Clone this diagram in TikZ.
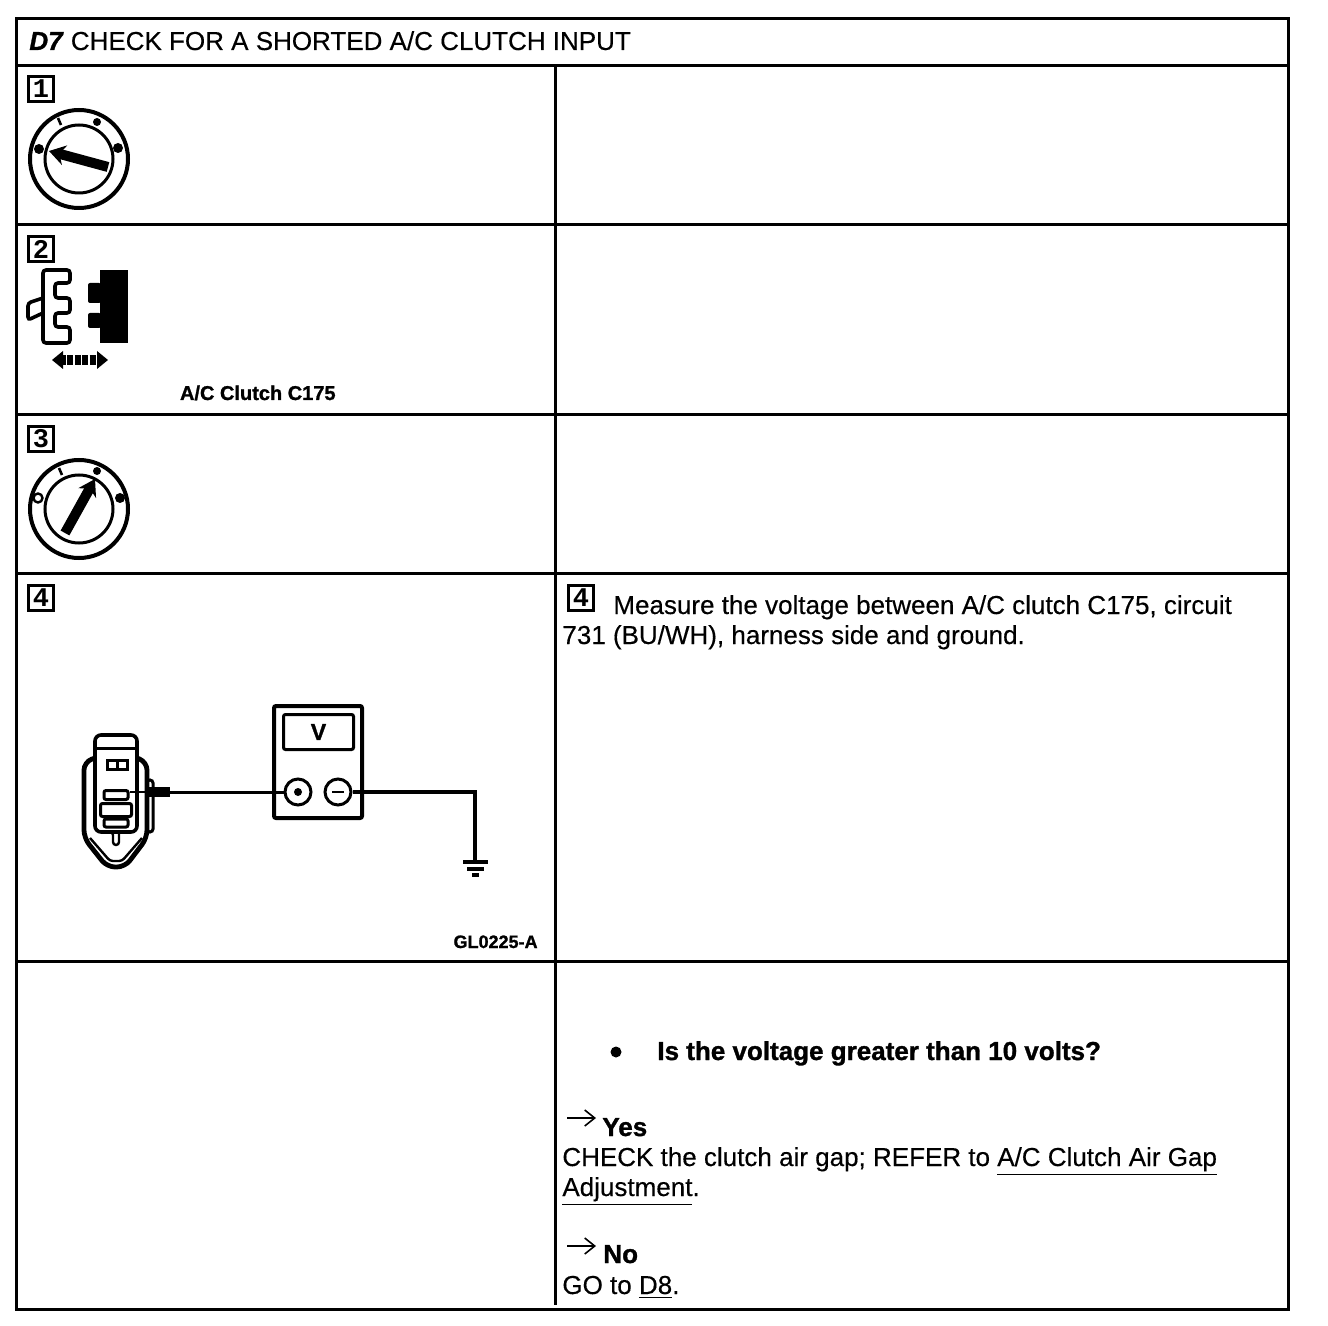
\documentclass[tikz,border=0pt]{standalone}
\usepackage{fontspec}
\setmainfont{Liberation Sans}[FakeBold=0.35,BoldFeatures={FakeBold=1.2},BoldItalicFeatures={FakeBold=1.2}]
\newfontfamily\numfont{Liberation Mono}
\usetikzlibrary{arrows.meta,positioning}
\tikzset{
  gridline/.style={line width=1.5pt},
  numbox/.style={draw, line width=1.5pt, minimum size=12.8pt, inner sep=0pt, font=\numfont\fontsize{13.5}{13.5}\selectfont\bfseries},
  bodytext/.style={anchor=base west, inner sep=0pt, font=\fontsize{13}{15}\selectfont},
  boldtext/.style={anchor=base west, inner sep=0pt, font=\fontsize{13}{15}\selectfont\bfseries},
  smalllabel/.style={anchor=base east, inner sep=0pt, font=\fontsize{10}{11}\selectfont\bfseries},
  dialring/.style={draw, circle, line width=2pt, inner sep=0pt},
  dialdot/.style={circle, fill=black, inner sep=0pt, minimum size=5pt},
  needle/.style={line width=5pt, -{Stealth[length=8pt,width=10pt]}},
  terminal/.style={draw, circle, line width=1.5pt, minimum size=13pt, inner sep=0pt},
  part/.style={line width=1.8pt, rounded corners=1.5pt},
  yesno/.style={line width=.8pt, -{Straight Barb[length=5pt,width=8pt]}}
}

\begin{document}
\begin{tikzpicture}[x=0.5pt, y=-0.5pt]
\useasboundingbox (0,0) rectangle (1328,1326);

% --- Table grid ---
\draw[gridline] (16,19) rectangle (1288,1309);
\draw[gridline] (16,66) -- (1288,66);
\draw[gridline] (16,225) -- (1288,225);
\draw[gridline] (16,415) -- (1288,415);
\draw[gridline] (16,573) -- (1288,573);
\draw[gridline] (16,961) -- (1288,961);
\draw[gridline] (555,66) -- (555,1305);

% Title
\node[bodytext] (title) at (29,50) {\textbf{\textit{D7}} CHECK FOR A SHORTED A/C CLUTCH INPUT};

% --- Step 1: key off ---
\node[numbox] (numone) at (41,89) {1};
\node[dialring, minimum size=49pt] (ringone) at (79,159) {};
\node[dialring, minimum size=34pt, line width=1.5pt] (hubone) at (79,159) {};
\node[dialdot] (offone) at (39,149) {};
\node[dialdot] (runone) at (118,148) {};
\node[dialdot, minimum size=4pt] (accone) at (97,122) {};
\draw[line width=1.3pt] (58,118) -- (61,125);
\draw[needle] (108,167) -- (49,151);

% --- Step 2: disconnect ---
\node[numbox] (numtwo) at (41,249) {2};

% Connector halves
\draw[part] (43,270) -- (70,270) -- (70,283) -- (55,283) -- (55,298) -- (70,298) -- (70,313)
  -- (55,313) -- (55,327) -- (70,327) -- (70,343) -- (43,343) -- cycle;
\draw[part] (43,298) -- (28,303) -- (28,320) -- (43,313);
\fill (100,270) rectangle (128,343);
\fill[rounded corners=1pt] (88,283) rectangle (101,303);
\fill[rounded corners=1pt] (88,313) rectangle (101,328);

% Separation arrow
\draw[line width=5pt, dash pattern=on 3pt off .7pt] (60,360) -- (100,360);
\fill (52,360) -- (63,351) -- (63,369) -- cycle;
\fill (108,360) -- (97,351) -- (97,369) -- cycle;
\node[smalllabel] (clutchlabel) at (336,400) {A/C Clutch C175};

% --- Step 3: key on ---
\node[numbox] (numthree) at (41,439) {3};
\node[dialring, minimum size=49pt] (ringthree) at (79,509) {};
\node[dialring, minimum size=34pt, line width=1.5pt] (hubthree) at (79,509) {};
\node[dialring, minimum size=4.5pt, line width=1.2pt, fill=white] (offthree) at (38,498) {};
\node[dialdot] (runthree) at (120,498) {};
\node[dialdot, minimum size=4pt] (accthree) at (97,471) {};
\draw[line width=1.3pt] (59,468) -- (62,475);
\draw[needle] (65,533) -- (95,479);

% --- Step 4: voltage measurement ---
\node[numbox] (numfour) at (41,598) {4};
\node[numbox] (numfourb) at (581,598) {4};

% Connector body
\draw[part, rounded corners=3pt] (95,735) rectangle (137,832);
\draw[line width=1.5pt] (95,748) -- (137,748);
\draw[part, line width=2.4pt, rounded corners=4pt] (95,758) -- (84,762) -- (84,838) -- (107,867) -- (125,867)
  -- (147,838) -- (147,762) -- (137,758);
\draw[part, line width=1.2pt] (90,838) -- (110,861) -- (122,861) -- (142,838);
\draw[part, line width=1.2pt] (110,832) -- (113,832) -- (113,845) -- (119,845) -- (119,832);
\draw[part, line width=1.5pt] (147,780) rectangle (153,832);
\node[draw, line width=1.5pt, minimum width=5pt, minimum height=4.5pt, inner sep=0pt] (windowa) at (112.5,765) {};
\node[draw, line width=1.5pt, minimum width=5pt, minimum height=4.5pt, inner sep=0pt] (windowb) at (122.5,765) {};
\node[draw, line width=1.5pt, rounded corners=1pt, minimum width=12pt, minimum height=4.5pt, inner sep=0pt] (slota) at (116,795) {};
\node[draw, line width=1.5pt, rounded corners=1pt, minimum width=15.5pt, minimum height=6.5pt, inner sep=0pt] (slotb) at (116,810) {};
\node[draw, line width=1.5pt, rounded corners=1pt, minimum width=12pt, minimum height=4pt, inner sep=0pt] (slotc) at (116,823) {};

% Probe
\node[fill=black, minimum width=11pt, minimum height=5pt, inner sep=0pt] (probe) at (159,792) {};
\draw[line width=1pt] (slota.north east |- probe.west) -- (probe.west);

% Meter
\node[draw, line width=2pt, rounded corners=1pt, minimum width=44pt, minimum height=56pt, inner sep=0pt] (meter) at (318,762) {};
\node[draw, line width=1.5pt, rounded corners=1pt, minimum width=35pt, minimum height=17.5pt, inner sep=0pt,
      font=\fontsize{11.5}{11.5}\selectfont\bfseries] (display) at (318.5,732) {V};
\node[terminal] (plus) at (298,792) {};
\node[terminal] (minus) at (338,792) {};
\node[circle, fill=black, minimum size=4pt, inner sep=0pt] (plusdot) at (298,792) {};
\draw[line width=1.4pt] (332,792) -- (344,792);

% Wires
\coordinate (gnd) at (475,862);
\draw[line width=1.5pt] (probe.east) -- (plus.west);
\draw[line width=1.6pt] (minus.east) -| (gnd);
\draw[line width=1.6pt] (463,862) -- (488,862);
\draw[line width=1.6pt] (467,869) -- (484,869);
\draw[line width=1.6pt] (472,875) -- (479,875);
\node[smalllabel, font=\fontsize{9}{11}\selectfont\bfseries] (figlabel) at (538,948) {GL0225-A};

% --- Right column text ---
\node[bodytext] (measurea) at (613,614) {Measure the voltage between A/C clutch C175, circuit};
\node[bodytext] (measureb) at (562,644) {731 (BU/WH), harness side and ground.};

% Question
\node[circle, fill=black, minimum size=5.5pt, inner sep=0pt] (bullet) at (616,1052) {};
\node[boldtext] (question) at (657,1060) {Is the voltage greater than 10 volts?};

% Yes branch
\coordinate (yesa) at (567,1118);
\coordinate (yesb) at (596,1118);
\draw[yesno] (yesa) -- (yesb);
\node[boldtext] (yes) at (602,1136) {Yes};
\node[bodytext] (checka) at (562,1166) {CHECK the clutch air gap; REFER to \underline{A/C Clutch Air Gap}};
\node[bodytext] (checkb) at (562,1196) {\underline{Adjustment}.};

% No branch
\coordinate (noa) at (567,1246);
\coordinate (nob) at (596,1246);
\draw[yesno] (noa) -- (nob);
\node[boldtext] (no) at (603,1263) {No};
\node[bodytext] (goto) at (562,1294) {GO to \underline{D8}.};

\end{tikzpicture}
\end{document}
